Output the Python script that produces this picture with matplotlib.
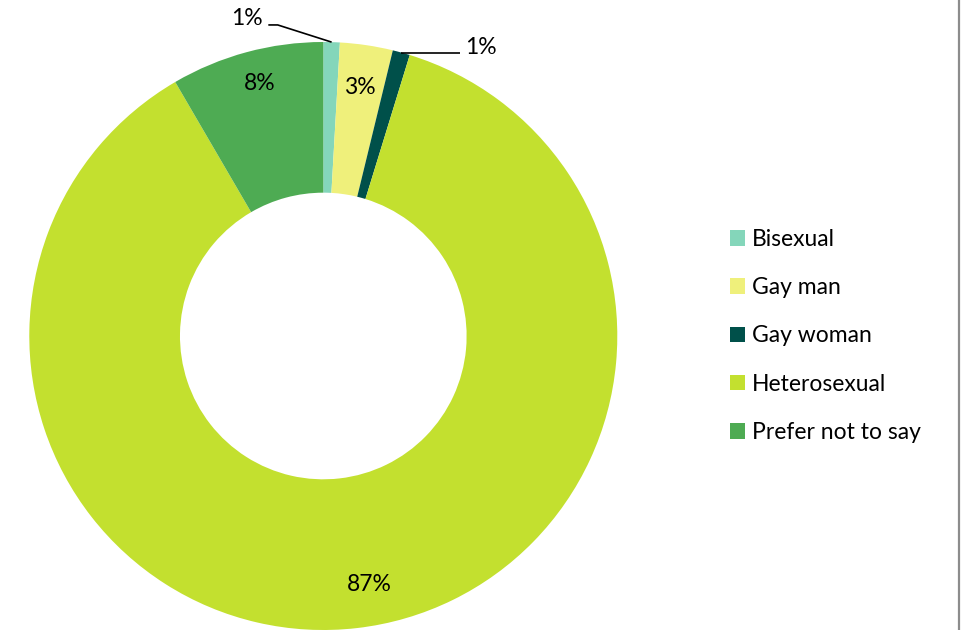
import numpy as np
import matplotlib
matplotlib.use("Agg")
import matplotlib.pyplot as plt
from matplotlib.patches import Patch
from matplotlib.lines import Line2D

categories = ["Bisexual", "Gay man", "Gay woman", "Heterosexual", "Prefer not to say"]
values = [0.9, 2.9, 0.95, 86.85, 8.4]
colors = ["#84D6BA", "#EFF07B", "#00504A", "#C3E02F", "#4EAB53"]

# style: label placement (axes data coords / radius, angle nudge in degrees)
outside = {0: dict(text=(-0.26, 1.08), line_y=1.058, elbow_x=-0.155, end_x=-0.187),
           2: dict(text=(0.536, 0.98), end_x=0.465)}
inside = {1: (0.853, 0.0), 3: (0.86, 4.0), 4: (0.886, -1.0)}

plt.rcParams["font.family"] = ["Lato", "DejaVu Sans"]
FS = 16.5
fig = plt.figure(figsize=(9.63, 6.3), dpi=100)
W, H = 963, 630
cx, cy, R = 323.3, 336, 294
ax = fig.add_axes([(cx - R) / W, (H - cy - R) / H, 2 * R / W, 2 * R / H])
wedges, _ = ax.pie(values, colors=colors, startangle=90, counterclock=False,
                   radius=1.0, wedgeprops=dict(width=0.5125, linewidth=0))
ax.set_xlim(-1, 1)
ax.set_ylim(-1, 1)
ax.set_aspect("equal")
ax.axis("off")

for i, w in enumerate(wedges):
    mid = np.deg2rad((w.theta1 + w.theta2) / 2)
    txt = f"{values[i]:.0f}%"
    if i in outside:
        o = outside[i]
        ax0, ay0 = np.cos(mid), np.sin(mid)
        if "elbow_x" in o:
            xs = [ax0, o["elbow_x"], o["end_x"]]
            ys = [ay0, o["line_y"], o["line_y"]]
        else:
            xs = [ax0, o["end_x"]]
            ys = [ay0, ay0]
        ax.plot(xs, ys, color="black", lw=1.2, clip_on=False, solid_capstyle="butt")
        ax.text(o["text"][0], o["text"][1], txt, ha="center", va="center",
                fontsize=FS, clip_on=False)
    else:
        r, da = inside[i]
        a = mid + np.deg2rad(da)
        ax.text(r * np.cos(a), r * np.sin(a), txt, ha="center", va="center", fontsize=FS)

handles = [Patch(facecolor=c, edgecolor="none") for c in colors]
fig.legend(handles, categories, loc="center left", bbox_to_anchor=(730 / W, 1 - 336 / H),
           frameon=False, fontsize=FS, handlelength=0.66, handleheight=0.66,
           handletextpad=0.3, labelspacing=1.19, borderpad=0, borderaxespad=0)

fig.add_artist(Line2D([958.5 / W, 958.5 / W], [0, 1], transform=fig.transFigure,
                      color="#8C8C8C", lw=1.6))

fig.savefig("out.png", dpi=100)
